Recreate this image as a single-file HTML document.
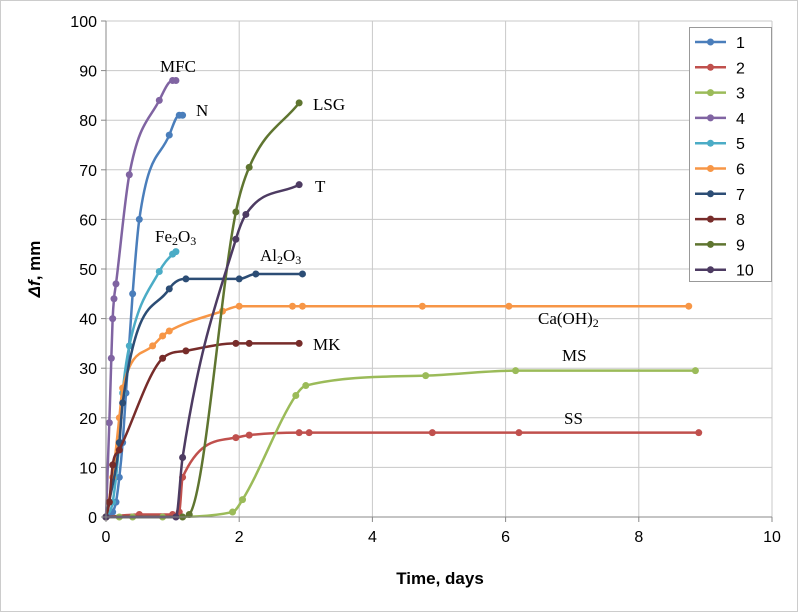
<!DOCTYPE html>
<html><head><meta charset="utf-8"><style>
body{margin:0;background:#fff;}
svg{display:block;font-family:"Liberation Sans",sans-serif;}
.lbl{font-family:"Liberation Serif",serif;font-size:17px;fill:#000;}
</style></head><body>
<svg id="chart" width="798" height="612" viewBox="0 0 798 612">
<rect x="0.5" y="0.5" width="797" height="611" fill="#fff" stroke="#ccc"/>
<g id="grid"></g><g id="series"></g><g id="axes"></g>
<text class="lbl" x="160" y="72">MFC</text>
<text class="lbl" x="196" y="116">N</text>
<text class="lbl" x="313" y="110">LSG</text>
<text class="lbl" x="315" y="192">T</text>
<text class="lbl" x="155" y="242">Fe<tspan font-size="12" dy="3">2</tspan><tspan dy="-3">O</tspan><tspan font-size="12" dy="3">3</tspan></text>
<text class="lbl" x="260" y="261">Al<tspan font-size="12" dy="3">2</tspan><tspan dy="-3">O</tspan><tspan font-size="12" dy="3">3</tspan></text>
<text class="lbl" x="538" y="324">Ca(OH)<tspan font-size="12" dy="3">2</tspan></text>
<text class="lbl" x="313" y="350">MK</text>
<text class="lbl" x="562" y="361">MS</text>
<text class="lbl" x="564" y="424">SS</text>
<text x="440" y="584" text-anchor="middle" font-size="17" font-weight="bold">Time, days</text>
<text transform="translate(40,269) rotate(-90)" text-anchor="middle" font-size="17" font-weight="bold"><tspan font-style="italic">Δf</tspan>, mm</text>
<g id="legend"></g>
</svg>
<script>
const xTicks=[0,2,4,6,8,10];
const yTicks=[0,10,20,30,40,50,60,70,80,90,100];
const colors=["#4a7ebb","#c0504d","#9bbb59","#8064a2","#4bacc6","#f79646","#2c4d75","#772c2a","#5f7530","#4d3b62"];
const s1=[[0,0],[0.05,0.5],[0.1,1],[0.15,3],[0.2,8],[0.25,15],[0.3,25],[0.4,45],[0.5,60],[0.95,77],[1.1,81],[1.15,81]];
const s2=[[0,0],[0.5,0.5],[1.0,0.5],[1.1,1],[1.15,8],[1.95,16],[2.15,16.5],[2.9,17],[3.05,17],[4.9,17],[6.2,17],[8.9,17]];
const s3=[[0.2,0],[0.4,0],[0.85,0],[1.9,1],[2.05,3.5],[2.85,24.5],[3.0,26.5],[4.8,28.5],[6.15,29.5],[8.85,29.5]];
const s4=[[0,0],[0.05,19],[0.08,32],[0.1,40],[0.12,44],[0.15,47],[0.35,69],[0.8,84],[1.0,88],[1.05,88]];
const s5=[[0,0],[0.1,3],[0.2,15],[0.25,25],[0.35,34.5],[0.8,49.5],[1.0,53],[1.05,53.5]];
const s6=[[0,0],[0.1,8],[0.2,20],[0.25,26],[0.7,34.5],[0.85,36.5],[0.95,37.5],[1.75,41.5],[2,42.5],[2.8,42.5],[2.95,42.5],[4.75,42.5],[6.05,42.5],[8.75,42.5]];
const s7=[[0,0],[0.2,15],[0.25,23],[0.95,46],[1.2,48],[2,48],[2.25,49],[2.95,49]];
const s8=[[0,0],[0.05,3],[0.1,10.5],[0.2,13.5],[0.85,32],[1.2,33.5],[1.95,35],[2.15,35],[2.9,35]];
const s9=[[0,0],[1.15,0],[1.25,0.5],[1.95,61.5],[2.15,70.5],[2.9,83.5]];
const s10=[[0,0],[1.05,0],[1.15,12],[1.95,56],[2.1,61],[2.9,67]];
const seriesNames=["1","2","3","4","5","6","7","8","9","10"];
const allSeries=[s1,s2,s3,s4,s5,s6,s7,s8,s9,s10];
const X0=106,X1=772,Y0=517,Y1=21;
const sx=v=>X0+(v-0)/(10-0)*(X1-X0);
const sy=v=>Y0-(v-0)/(100-0)*(Y0-Y1);
const NS="http://www.w3.org/2000/svg";
function mk(t,a,p){const e=document.createElementNS(NS,t);for(const k in a)e.setAttribute(k,a[k]);p.appendChild(e);return e;}
function smooth(P){
 const n=P.length;if(n<2)return '';
 const dx=[],m=[];
 for(let i=0;i<n-1;i++){dx.push(P[i+1][0]-P[i][0]);m.push((P[i+1][1]-P[i][1])/dx[i]);}
 const t=[m[0]];
 for(let i=1;i<n-1;i++){t.push(m[i-1]*m[i]<=0?0:(m[i-1]+m[i])/2);}
 t.push(m[n-2]);
 for(let i=0;i<n-1;i++){
  if(m[i]===0){t[i]=0;t[i+1]=0;continue;}
  const a=t[i]/m[i],b=t[i+1]/m[i],h=a*a+b*b;
  if(h>9){const k=3/Math.sqrt(h);t[i]=k*a*m[i];t[i+1]=k*b*m[i];}
 }
 let d=`M${P[0][0]},${P[0][1]}`;
 for(let i=0;i<n-1;i++){
  const h=dx[i]/3;
  d+=` C${P[i][0]+h},${P[i][1]+t[i]*h} ${P[i+1][0]-h},${P[i+1][1]-t[i+1]*h} ${P[i+1][0]},${P[i+1][1]}`;
 }
 return d;
}
const grid=document.getElementById('grid'),axes=document.getElementById('axes'),ser=document.getElementById('series'),leg=document.getElementById('legend');
yTicks.forEach(v=>{
 if(v>0){const l=mk('line',{x1:X0,x2:X1,y1:sy(v),y2:sy(v),stroke:'#c8c8c8','stroke-width':1},grid);
 
 }
 const tk=mk('line',{x1:X0-5,x2:X0,y1:sy(v),y2:sy(v),stroke:'#888'},axes);
 
 
 const t=mk('text',{x:X0-9,y:sy(v)+6,'text-anchor':'end','font-size':16,fill:'#000'},axes);t.textContent=v;
 
 
});
xTicks.forEach(v=>{
 if(v>0){const l=mk('line',{x1:sx(v),x2:sx(v),y1:Y1,y2:Y0,stroke:'#c8c8c8','stroke-width':1},grid);
 
 }
 const tk=mk('line',{x1:sx(v),x2:sx(v),y1:Y0,y2:Y0+5,stroke:'#888'},axes);
 
 
 const t=mk('text',{x:sx(v),y:Y0+25,'text-anchor':'middle','font-size':16,fill:'#000'},axes);t.textContent=v;
 
 
});
const ax=mk('path',{d:`M${X0},${Y1}V${Y0}H${X1}`,fill:'none',stroke:'#888'},axes);


allSeries.forEach((s,i)=>{
 const g=mk('g',{},ser);
 
 
 const p=mk('path',{d:smooth(s.map(d=>[sx(d[0]),sy(d[1])])),fill:'none',stroke:colors[i],'stroke-width':2.5,'stroke-linejoin':'round'},g);
 
 
 s.forEach(d=>{const c=mk('circle',{cx:sx(d[0]),cy:sy(d[1]),r:3.5,fill:colors[i]},g);
 
 });
});
const lb=mk('rect',{x:689.5,y:27.5,width:82,height:254,fill:'#fff',stroke:'#999'},leg);


seriesNames.forEach((n,i)=>{
 const y=42+i*25.3;
 const g=mk('g',{},leg);
 
 
 mk('line',{x1:695,x2:726,y1:y,y2:y,stroke:colors[i],'stroke-width':2.5},g);
 mk('circle',{cx:710.5,cy:y,r:3.5,fill:colors[i]},g);
 const t=mk('text',{x:736,y:y+6,'font-size':16,fill:'#000'},g);t.textContent=n;
});
</script>
</body></html>
